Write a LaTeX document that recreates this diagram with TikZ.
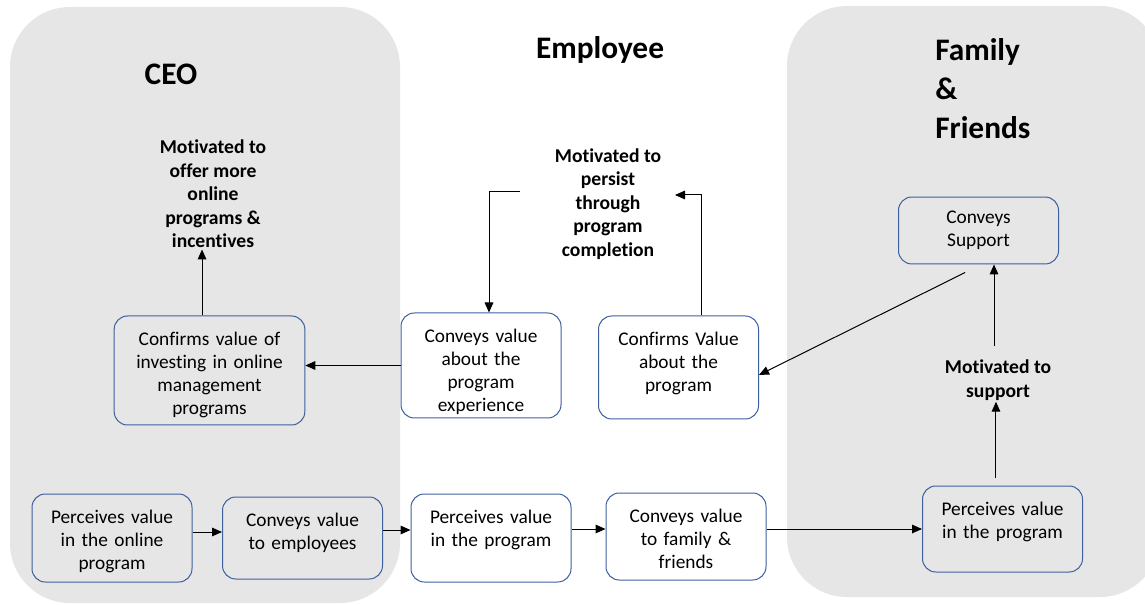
\documentclass[tikz,border=0pt]{standalone}
\usepackage{fontspec}
\setmainfont{Carlito}[Ligatures=NoCommon]
\usetikzlibrary{arrows.meta}

\definecolor{panelgray}{RGB}{230,230,230}
\definecolor{boxblue}{RGB}{62,96,158}

\begin{document}
\begin{tikzpicture}[
		x=0.75pt, y=-0.75pt,
		panel/.style={fill=panelgray, rounded corners=45pt},
		box/.style={draw=boxblue, line width=0.75pt, rounded corners=10pt,
		text width=112pt, align=center, inner xsep=4pt, inner ysep=0pt,
		text height=22pt, text depth=44pt,
		font=\fontsize{14.5}{17.25}\selectfont},
		note/.style={align=center, inner sep=1pt,
		font=\fontsize{14.7}{17.6}\selectfont\bfseries},
		title/.style={inner sep=0pt, font=\fontsize{23.5}{29.25}\selectfont\bfseries},
		arr/.style={-{Triangle[length=7.5pt,width=6.5pt]}, line width=0.75pt}
	]
		\clip (0,0) rectangle (1145,605);

		% 两侧灰色区域
		\fill[panel] (10,7) rectangle (400,603);
		\fill[panel] (787,6) rectangle (1160,597);

		% 标题
		\node[title] (t_ceo) at (171,74) {CEO};
		\node[title] (t_emp) at (600,50) {Employee};
		\node[title, align=left, anchor=west] (t_fam) at (935,89) {Family\\\&\\Friends};

		% 底层一行
		\node[box] (perc_ceo) at (112,538) {Perceives value\\in the online\\program};
		\node[box, text depth=39.5pt] (conv_emp) at (302.5,538) {Conveys value\\to employees};
		\node[box] (perc_emp) at (491,538) {Perceives value\\in the program};
		\node[box, text depth=43.25pt] (conv_fam) at (686,536.5) {Conveys value\\to family \&\\friends};
		\node[box, text depth=42.5pt] (perc_fam) at (1002.5,529) {Perceives value\\in the program};

		% 中间一行
		\node[box, text width=135pt, text depth=59.75pt] (conf_ceo) at (209.5,370.5)
			{Confirms value of\\investing in online\\management\\programs};
		\node[box, text depth=56.75pt] (conv_exp) at (481,365.5)
			{Conveys value\\about the\\program\\experience};
		\node[box, text depth=55.25pt] (conf_emp) at (678.5,367.5)
			{Confirms Value\\about the\\program};
		\node[box, text height=19.7pt, text depth=30.5pt] (conv_sup) at (978.5,230.5)
			{Conveys\\Support};

		% 动机
		\node[note] (mot_ceo) at (213,194) {Motivated to\\offer more\\online\\programs \&\\incentives};
		\node[note] (mot_emp) at (608,204) {Motivated to\\persist\\through\\program\\completion};
		\node[note] (mot_fam) at (998,380) {Motivated to\\support};
		\coordinate (p_out) at (520,192);
		\coordinate (p_in) at (675,195);

		% 价值传递
		\draw[arr] ([yshift=4.5pt]perc_ceo.east) -- ([yshift=4.5pt]perc_ceo.east -| conv_emp.west);
		\draw[arr] ([yshift=6pt]conv_emp.east) -- ([yshift=6pt]conv_emp.east -| perc_emp.west);
		\draw[arr] ([yshift=6.75pt]perc_emp.east) -- ([yshift=6.75pt]perc_emp.east -| conv_fam.west);
		\draw[arr] (conv_fam.east |- perc_fam.west) -- (perc_fam.west);

		% 反馈
		\draw[arr] ([shift={(-4.9pt,6pt)}]perc_fam.north) -- ([xshift=-4.9pt]perc_fam.north |- mot_fam.south);
		\draw[arr] ([shift={(-3pt,9pt)}]mot_fam.north) -- ([xshift=-3pt]mot_fam.north |- conv_sup.south);
		\draw[arr] ([shift={(-10pt,-6pt)}]conv_sup.south) -- ([yshift=-5.6pt]conf_emp.east);
		\draw[arr] ([xshift=17.6pt]conf_emp.north) |- (p_in);
		\draw[arr] (p_out) -| ([xshift=6pt]conv_exp.north);
		\draw[arr] (conv_exp.west) -- (conv_exp.west -| conf_ceo.east);
		\draw[arr] ([xshift=-5.6pt]conf_ceo.north) -- ([xshift=-5.6pt]conf_ceo.north |- mot_ceo.south);
	\end{tikzpicture}
\end{document}
